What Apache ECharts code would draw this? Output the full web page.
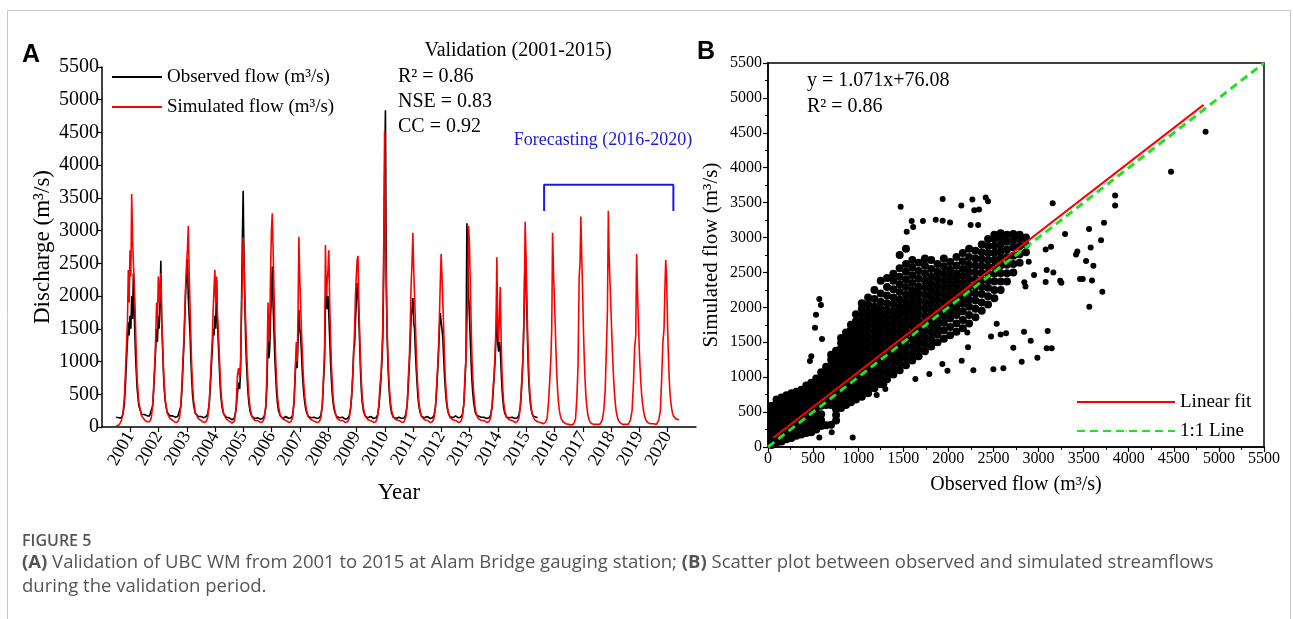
<!DOCTYPE html>
<html><head><meta charset="utf-8">
<script src="https://cdn.jsdelivr.net/npm/echarts@6/dist/echarts.min.js"></script>
<style>html,body{margin:0;padding:0;background:#fff}#c{width:1293px;height:619px}</style>
</head><body><div id="c"></div>
<script>
// ---------- Panel A data ----------
const years = [2001,2002,2003,2004,2005,2006,2007,2008,2009,2010,2011,2012,2013,2014,2015,2016,2017,2018,2019,2020];
// sample positions inside each year, relative to the year's tick (years)
const sampleOffsets = [-0.50,-0.40,-0.32,-0.26,-0.21,-0.17,-0.13,-0.10,-0.07,-0.04,-0.01,0.02,0.05,0.08,0.11,0.14,0.17,0.20,0.24,0.30,0.40];
const simulated = [
 [20,30,90,200,450,850,1300,1600,2400,1900,2700,2300,3560,2900,2500,2200,1800,1300,750,380,170],
 [110,80,80,130,320,650,1000,1400,1900,1600,2300,1900,2100,2350,1600,1300,950,650,400,220,130],
 [100,70,80,140,340,700,1100,1400,1800,2200,2500,2700,3070,2400,1900,1400,950,650,400,220,130],
 [100,70,80,150,360,720,1100,1350,1800,2100,2400,1900,2300,1700,1500,1200,850,580,370,200,120],
 [90,60,90,300,800,900,750,1000,1700,2300,2900,2500,2000,1600,1200,880,620,430,280,160,100],
 [100,70,80,140,330,800,1900,1300,1500,2400,3000,3265,2700,2100,1500,1050,720,490,320,180,120],
 [100,70,80,150,400,850,1300,1000,1700,2908,2300,1900,1500,1150,850,620,460,340,240,150,110],
 [90,70,80,140,350,750,1200,2780,2000,2200,2400,2700,1900,1400,950,670,460,330,230,140,100],
 [100,70,80,130,290,520,850,1150,1500,2000,2300,2550,2613,1900,1450,1000,700,460,290,170,110],
 [100,70,80,150,350,650,850,1150,1600,2800,4520,3200,2100,1500,1050,760,540,370,250,150,110],
 [100,70,80,150,350,750,1100,1600,2200,2500,2969,2400,2000,1600,1150,820,580,400,260,160,110],
 [100,70,80,140,310,620,950,1250,1700,2200,2643,2300,1900,1500,1050,730,510,350,230,150,110],
 [100,70,80,150,350,750,1050,1500,2000,3071,2800,2200,1600,1050,750,530,380,270,190,130,100],
 [100,70,80,140,320,620,850,1150,1600,2593,1500,1300,1700,2140,1350,850,570,380,250,150,110],
 [100,70,80,140,310,620,950,1350,2000,3137,2600,2000,1400,950,640,440,310,220,160,110,80],
 [70,50,70,140,400,720,1050,1500,2969,2400,2000,1600,1150,800,540,370,250,180,120,80,50],
 [40,30,50,120,460,950,2300,2500,3214,2600,2100,1500,1050,700,460,310,210,140,90,55,40],
 [40,40,100,250,560,1150,1800,3305,2600,2200,1850,1450,1100,800,570,400,270,190,120,70,40],
 [40,40,100,250,680,1200,1400,2643,2100,1650,1250,920,680,490,360,260,190,140,100,65,50],
 [50,40,100,250,780,1300,1500,2100,2552,2300,1650,1150,780,520,380,280,210,170,140,120,110]
];
const observed = [
 [150,140,140,190,350,650,1050,1300,1600,1400,1700,1500,2000,1650,2350,1750,1300,950,600,330,190],
 [190,170,170,190,320,580,950,1200,1500,1300,1700,1500,1900,2540,1650,1250,850,580,380,230,170],
 [170,150,160,190,320,600,1000,1300,1700,2100,2300,2560,2000,1700,1450,1050,750,500,330,210,160],
 [160,140,160,200,340,620,950,1200,1500,1400,1700,1500,2250,1650,1300,1000,700,480,310,200,150],
 [140,110,140,260,530,680,580,900,1800,2800,3610,2600,1900,1300,950,680,480,340,230,160,130],
 [140,120,130,170,290,620,1400,1050,1200,1700,2000,2450,1850,1450,1050,780,540,370,250,170,130],
 [160,130,140,180,380,780,1150,900,1300,1790,1500,1400,1150,850,640,480,370,280,210,160,140],
 [150,130,140,180,340,680,1050,1900,2200,1800,2000,1700,1350,1000,720,510,370,280,210,160,140],
 [150,120,130,170,290,480,820,1200,1250,1600,1900,2200,2100,1650,1250,850,560,380,250,170,140],
 [160,130,140,180,310,530,780,1050,1400,2400,3800,4840,2300,1400,950,650,450,310,210,150,130],
 [150,130,140,190,340,640,1000,1300,1700,1800,1970,1600,1500,1150,880,650,460,330,230,160,140],
 [160,130,140,180,310,560,880,1150,1500,1740,1600,1500,1350,1050,780,570,410,300,220,160,140],
 [170,140,150,190,340,650,1100,3112,2600,2000,1700,1350,980,700,510,380,290,220,180,160,150],
 [150,130,140,180,310,530,820,1050,1400,1800,1300,1150,1300,1200,880,600,410,290,210,150,140],
 [150,130,140,180,310,560,920,1300,1900,2755,2300,1750,1200,800,540,380,280,210,170,150,140]
];
const forecastBracket = [[2015.63,3300],[2015.63,3700],[2020.2,3700],[2020.2,3300]];

// ---------- Panel B data ----------
const fitLine = [[55,130],[4830,4900]];
const oneToOne = [[0,0],[5500,5500]];
const scatterOutliers = [
 [4852,4515],[4469,3943],[3849,3603],[3849,3460],[3157,3490],[1937,3551],[1471,3442],[2144,3460],[2266,3546],[2414,3575],
 [2440,3520],[2340,3400],[2288,3390],[1593,3236],[1718,3236],[1860,3255],[1937,3240],[2019,3217],[2247,3178],[2330,3178],
 [1538,3083],[1610,3150],[3294,3050],[3560,3121],[3578,2858],[3693,2963],[3726,3211],[3416,2758],[3430,2800],[3527,2663],
 [3608,2596],[3460,2405],[3490,2405],[3593,2386],[3707,2224],[3563,2010],[3079,2830],[3138,2868],[3090,2535],[3164,2501],
 [3079,2362],[3253,2353],[3240,2380],[2950,2463],[2842,2358],[2855,2300],[2891,2655],[3101,1661],[3090,1413],[3146,1413],
 [2987,1279],[2839,1652],[2913,1523],[2813,1222],[2720,1420],[2610,1127],[2499,1112],[2640,1628],[2580,1610],[2277,1098],
 [2148,1236],[1990,1093],[1933,1188],[1789,1045],[1634,973],[2536,1767],[2473,1581],[2218,1427],[2210,1640],[1205,745],
 [1301,830],[1290,900],[706,212],[569,136],[939,136],[465,1230],[521,1709],[532,1895],[569,2119],[587,2033],[599,1547],[480,1300]
];
const cloudColumns = [
 [40,[30,100,170,240,310,380,450,520,590]],
 [95,[60,130,200,270,340,410,480,550,620,680]],
 [150,[80,150,220,290,360,430,500,570,640,710]],
 [205,[110,185,255,325,395,465,535,605,675,740]],
 [260,[130,200,270,340,410,480,550,620,690,770]],
 [315,[160,230,300,370,440,510,580,650,720,790]],
 [370,[180,255,325,395,465,535,605,675,745,820]],
 [425,[200,270,340,410,480,550,620,690,760,840,880]],
 [480,[210,290,360,430,500,570,640,710,780,850,920]],
 [535,[250,320,390,470,560,630,700,770,840,910,980]],
 [590,[300,380,470,590,660,730,800,870,940,1010,1070]],
 [645,[310,600,670,740,810,880,950,1020,1090,1150]],
 [700,[320,600,680,750,820,890,960,1030,1100,1170,1250,1320]],
 [755,[380,460,540,640,710,790,860,930,1000,1070,1140,1210,1290,1380]],
 [810,[560,630,700,770,840,910,980,1050,1120,1190,1260,1330,1410,1490,1560]],
 [865,[600,680,760,840,920,1000,1080,1160,1240,1320,1400,1480,1560,1640]],
 [920,[640,720,800,880,960,1040,1120,1200,1280,1360,1440,1520,1600,1680,1750]],
 [975,[680,760,840,920,1000,1080,1160,1240,1320,1400,1480,1560,1640,1720,1800,1900]],
 [1040,[720,810,900,990,1080,1170,1260,1350,1440,1530,1620,1710,1800,1890,1980,2060]],
 [1110,[770,860,950,1040,1130,1220,1310,1400,1490,1580,1670,1760,1850,1940,2040,2140]],
 [1180,[840,930,1020,1110,1200,1290,1380,1470,1560,1650,1740,1830,1920,2010,2120,2250]],
 [1250,[900,990,1080,1170,1260,1350,1440,1530,1620,1710,1800,1890,1980,2080,2200,2380]],
 [1320,[970,1060,1150,1240,1330,1420,1510,1600,1690,1780,1870,1960,2060,2170,2290,2420]],
 [1390,[1040,1130,1220,1310,1400,1490,1580,1670,1760,1850,1940,2040,2140,2260,2380,2480]],
 [1460,[1100,1200,1290,1380,1470,1560,1650,1740,1830,1920,2010,2110,2220,2330,2440,2560,2750]],
 [1530,[1170,1270,1360,1450,1540,1630,1720,1810,1900,1990,2080,2180,2290,2400,2510,2620,2840]],
 [1600,[1240,1340,1440,1540,1640,1740,1840,1940,2040,2140,2240,2350,2460,2570,2680]],
 [1670,[1300,1400,1500,1600,1700,1800,1900,2000,2100,2200,2300,2410,2520,2640]],
 [1740,[1370,1470,1570,1670,1780,1880,1980,2080,2180,2280,2380,2490,2600,2700]],
 [1810,[1440,1540,1640,1740,1840,1940,2040,2140,2240,2340,2440,2550,2680]],
 [1880,[1500,1610,1710,1810,1910,2010,2110,2210,2310,2410,2510,2620]],
 [1950,[1550,1670,1780,1880,1980,2080,2180,2280,2380,2480,2590,2700]],
 [2020,[1600,1720,1840,1940,2040,2140,2240,2340,2440,2540,2650]],
 [2090,[1650,1770,1890,1990,2090,2190,2290,2390,2490,2600,2720]],
 [2160,[1700,1820,1940,2050,2150,2250,2350,2450,2550,2660,2780]],
 [2230,[1770,1890,2010,2110,2210,2310,2410,2510,2610,2720,2840]],
 [2300,[1860,1980,2100,2200,2300,2400,2500,2600,2700,2810]],
 [2370,[1950,2070,2190,2290,2390,2490,2590,2690,2790,2900]],
 [2440,[2040,2160,2280,2380,2480,2580,2680,2780,2880,2980]],
 [2510,[2130,2250,2370,2480,2580,2680,2780,2880,2980,3040]],
 [2580,[2250,2370,2490,2600,2700,2800,2900,3000,3060]],
 [2650,[2370,2490,2610,2720,2830,2940,3040]],
 [2720,[2500,2620,2740,2860,2960,3050]],
 [2790,[2640,2760,2880,2980,3040]],
 [2860,[2790,2900,3000]]
];

// ---------- build series data ----------
const simData = [];
years.forEach((y, i) => sampleOffsets.forEach((o, j) => simData.push([y + o, simulated[i][j]])));
const obsData = [];
observed.forEach((row, i) => sampleOffsets.forEach((o, j) => obsData.push([years[i] + o, row[j]])));
const cloudData = [];
cloudColumns.forEach(([o, sims]) => sims.forEach(s => cloudData.push([o, s])));

const SERIF = '"Liberation Serif", "Times New Roman", serif';
const SANS = '"Liberation Sans", Arial, sans-serif';
const CAP = '"Open Sans", "Noto Sans", sans-serif';
const plain = v => String(v);

const chart = echarts.init(document.getElementById('c'), null, {renderer: 'canvas'});
const axisLine = {show: true, onZero: false, lineStyle: {color: '#000', width: 1.5}};
chart.setOption({
  animation: false,
  backgroundColor: '#fff',
  grid: [
    {left: 102, right: 597, top: 67, bottom: 192, outerBoundsMode: 'none'},
    {left: 768, right: 29, top: 63, bottom: 172, show: true, borderColor: '#000', borderWidth: 1.5, backgroundColor: 'transparent', outerBoundsMode: 'none'}
  ],
  xAxis: [
    {gridIndex: 0, type: 'value', min: 2000, max: 2021, interval: 1,
     axisLine: axisLine,
     axisTick: {show: true, length: 5, lineStyle: {color: '#000', width: 1.2}, customValues: years},
     axisLabel: {customValues: years, formatter: plain, rotate: 60, fontFamily: SERIF, fontSize: 18, color: '#000', margin: 6},
     splitLine: {show: false},
     name: 'Year', nameLocation: 'middle', nameGap: 54,
     nameTextStyle: {fontFamily: SERIF, fontSize: 23, color: '#000'}},
    {gridIndex: 1, type: 'value', min: 0, max: 5500, interval: 500,
     axisLine: axisLine,
     axisTick: {show: true, length: 5, lineStyle: {color: '#000', width: 1.2}},
     minorTick: {show: true, splitNumber: 2, length: 3, lineStyle: {color: '#000'}},
     axisLabel: {formatter: plain, fontFamily: SERIF, fontSize: 16, color: '#000', margin: 4},
     splitLine: {show: false},
     name: 'Observed flow (m³/s)', nameLocation: 'middle', nameGap: 28,
     nameTextStyle: {fontFamily: SERIF, fontSize: 20, color: '#000'}}
  ],
  yAxis: [
    {gridIndex: 0, type: 'value', min: 0, max: 5500, interval: 500,
     axisLine: axisLine,
     axisTick: {show: true, length: 5, lineStyle: {color: '#000', width: 1.2}},
     axisLabel: {formatter: plain, fontFamily: SERIF, fontSize: 20, color: '#000', margin: 3},
     splitLine: {show: false},
     name: 'Discharge (m³/s)', nameLocation: 'middle', nameGap: 48,
     nameTextStyle: {fontFamily: SERIF, fontSize: 23, color: '#000'}},
    {gridIndex: 1, type: 'value', min: 0, max: 5500, interval: 500,
     axisLine: axisLine,
     axisTick: {show: true, length: 5, lineStyle: {color: '#000', width: 1.2}},
     minorTick: {show: true, splitNumber: 2, length: 3, lineStyle: {color: '#000'}},
     axisLabel: {formatter: plain, fontFamily: SERIF, fontSize: 16, color: '#000', margin: 6},
     splitLine: {show: false},
     name: 'Simulated flow (m³/s)', nameLocation: 'middle', nameGap: 46,
     nameTextStyle: {fontFamily: SERIF, fontSize: 21, color: '#000'}}
  ],
  legend: [
    {orient: 'vertical', left: 106, top: 62, itemWidth: 50, itemHeight: 2, itemGap: 10,
     data: ['Observed flow (m³/s)', 'Simulated flow (m³/s)'],
     textStyle: {fontFamily: SERIF, fontSize: 19, color: '#000', lineHeight: 20}},
    {orient: 'vertical', left: 1071, top: 387, itemWidth: 98, itemHeight: 2, itemGap: 9,
     data: ['Linear fit', '1:1 Line'],
     textStyle: {fontFamily: SERIF, fontSize: 19, color: '#000', lineHeight: 20}}
  ],
  series: [
    {name: 'Observed flow (m³/s)', type: 'line', xAxisIndex: 0, yAxisIndex: 0, data: obsData,
     symbol: 'none', lineStyle: {color: '#000', width: 1.6}, itemStyle: {color: '#000'}, z: 2},
    {name: 'Simulated flow (m³/s)', type: 'line', xAxisIndex: 0, yAxisIndex: 0, data: simData,
     symbol: 'none', lineStyle: {color: '#ff0000', width: 1.6}, itemStyle: {color: '#ff0000'}, z: 3},
    {name: 'forecast', type: 'line', xAxisIndex: 0, yAxisIndex: 0, data: forecastBracket,
     symbol: 'none', lineStyle: {color: '#1a1ae6', width: 2}, z: 4},
    {name: 'cloud', type: 'scatter', xAxisIndex: 1, yAxisIndex: 1, data: cloudData,
     symbolSize: 8, itemStyle: {color: '#000', opacity: 1}, z: 2},
    {name: 'outliers', type: 'scatter', xAxisIndex: 1, yAxisIndex: 1, data: scatterOutliers,
     symbolSize: 6, itemStyle: {color: '#000', opacity: 1}, z: 2},
    {name: 'Linear fit', type: 'line', xAxisIndex: 1, yAxisIndex: 1, data: fitLine,
     symbol: 'none', lineStyle: {color: '#ff0000', width: 2}, itemStyle: {color: '#ff0000'}, z: 4},
    {name: '1:1 Line', type: 'line', xAxisIndex: 1, yAxisIndex: 1, data: oneToOne,
     symbol: 'none', lineStyle: {color: '#22e022', width: 3, type: [8, 5]}, itemStyle: {color: '#22e022'}, z: 5}
  ],
  graphic: [
    {type: 'rect', shape: {x: 7.5, y: 10.5, width: 1283, height: 640}, style: {fill: 'none', stroke: '#c8c8c8', lineWidth: 1}, silent: true},
    {type: 'text', x: 22, y: 55, style: {text: 'A', font: 'bold 25px ' + SANS, fill: '#000', textAlign: 'left', textVerticalAlign: 'middle'}},
    {type: 'text', x: 697, y: 52, style: {text: 'B', font: 'bold 25px ' + SANS, fill: '#000', textAlign: 'left', textVerticalAlign: 'middle'}},
    {type: 'text', x: 518, y: 51, style: {text: 'Validation (2001-2015)', font: '20px ' + SERIF, fill: '#000', textAlign: 'center', textVerticalAlign: 'middle'}},
    {type: 'text', x: 398, y: 77, style: {text: 'R² = 0.86', font: '20px ' + SERIF, fill: '#000', textAlign: 'left', textVerticalAlign: 'middle'}},
    {type: 'text', x: 398, y: 102, style: {text: 'NSE = 0.83', font: '20px ' + SERIF, fill: '#000', textAlign: 'left', textVerticalAlign: 'middle'}},
    {type: 'text', x: 398, y: 127, style: {text: 'CC = 0.92', font: '20px ' + SERIF, fill: '#000', textAlign: 'left', textVerticalAlign: 'middle'}},
    {type: 'text', x: 603, y: 140, style: {text: 'Forecasting (2016-2020)', font: '18px ' + SERIF, fill: '#1a1ae6', textAlign: 'center', textVerticalAlign: 'middle'}},
    {type: 'text', x: 807, y: 81, style: {text: 'y = 1.071x+76.08', font: '20px ' + SERIF, fill: '#000', textAlign: 'left', textVerticalAlign: 'middle'}},
    {type: 'text', x: 807, y: 107, style: {text: 'R² = 0.86', font: '20px ' + SERIF, fill: '#000', textAlign: 'left', textVerticalAlign: 'middle'}},
    {type: 'text', x: 22, y: 541, style: {text: 'FIGURE 5', font: '600 16px ' + CAP, fill: '#555', textAlign: 'left', textVerticalAlign: 'middle'}},
    {type: 'text', x: 22, y: 563, style: {
      text: '{b|(A)} Validation of UBC WM from 2001 to 2015 at Alam Bridge gauging station; {b|(B)} Scatter plot between observed and simulated streamflows',
      font: '18.5px ' + CAP, fill: '#555', textAlign: 'left', textVerticalAlign: 'middle',
      rich: {b: {fontWeight: 'bold', fontFamily: CAP, fontSize: 18.5, fill: '#555'}}}},
    {type: 'text', x: 22, y: 587, style: {text: 'during the validation period.', font: '18.5px ' + CAP, fill: '#555', textAlign: 'left', textVerticalAlign: 'middle'}}
  ]
});
</script>
</body></html>
